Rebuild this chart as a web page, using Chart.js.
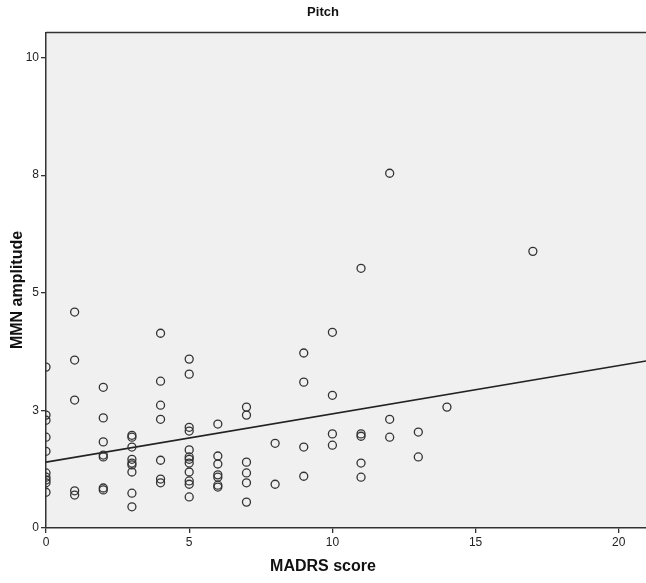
<!DOCTYPE html>
<html>
<head>
<meta charset="utf-8">
<script src="https://cdn.jsdelivr.net/npm/chart.js@4"></script>
<style>
  body { margin: 0; background: #fff; }
  #wrap { width: 646px; height: 583px; }
</style>
</head>
<body>
<div id="wrap"><canvas id="pitch" width="646" height="583"></canvas></div>
<script>
// MADRS score (x) and MMN amplitude (y), read column by column
var madrs = [
  0, 0, 0, 0, 0, 0, 0, 0, 0, 0,
  1, 1, 1, 1, 1,
  2, 2, 2, 2, 2, 2, 2,
  3, 3, 3, 3, 3, 3, 3, 3, 3,
  4, 4, 4, 4, 4, 4, 4,
  5, 5, 5, 5, 5, 5, 5, 5, 5, 5, 5, 5,
  6, 6, 6, 6, 6, 6, 6,
  7, 7, 7, 7, 7, 7,
  8, 8,
  9, 9, 9, 9,
  10, 10, 10, 10,
  11, 11, 11, 11, 11,
  12, 12, 12,
  13, 13,
  14,
  17
]
var mmn = [
  3.42, 2.40, 2.29, 1.93, 1.63, 1.17, 1.08, 1.02, 0.96, 0.76,
  4.59, 3.57, 2.72, 0.79, 0.70,
  2.99, 2.34, 1.83, 1.55, 1.51, 0.85, 0.81,
  1.97, 1.93, 1.72, 1.46, 1.38, 1.34, 1.19, 0.74, 0.45,
  4.14, 3.12, 2.61, 2.31, 1.44, 1.04, 0.96,
  3.59, 3.27, 2.14, 2.06, 1.66, 1.51, 1.46, 1.38, 1.19, 1.00, 0.93, 0.66,
  2.21, 1.53, 1.36, 1.13, 1.08, 0.91, 0.87,
  2.57, 2.40, 1.40, 1.17, 0.96, 0.55,
  1.80, 0.93,
  3.72, 3.10, 1.72, 1.10,
  4.16, 2.82, 2.00, 1.76,
  5.52, 2.00, 1.95, 1.38, 1.08,
  7.54, 2.31, 1.93,
  2.04, 1.51,
  2.57,
  5.88
]

// fit line end points
var fitX = [0, 20.95]
var fitY = [1.40, 3.55]

var xTicks = [0, 5, 10, 15, 20]
var yTicks = [0, 2.5, 5, 7.5, 10]
var yTickLabels = ['0', '3', '5', '8', '10']

var puntos = madrs.map(function (x, i) { return { x: x, y: mmn[i] } })
var linea = fitX.map(function (x, i) { return { x: x, y: fitY[i] } })

var familia = '"Liberation Sans", Arial, sans-serif'

// fondo gris, borde superior y titulos de los ejes (centrados en la imagen)
var fondo = {
  id: 'fondo',
  beforeDraw: function (chart) {
    var a = chart.chartArea, ctx = chart.ctx
    ctx.save()
    ctx.fillStyle = '#f0f0f0'
    ctx.fillRect(a.left, a.top, a.right - a.left, a.bottom - a.top)
    ctx.restore()
  },
  afterDraw: function (chart) {
    var a = chart.chartArea, ctx = chart.ctx
    ctx.save()
    ctx.strokeStyle = '#333'
    ctx.lineWidth = 1.5
    ctx.beginPath()
    ctx.moveTo(a.left, a.top)
    ctx.lineTo(a.right, a.top)
    ctx.stroke()

    ctx.fillStyle = '#111'
    ctx.font = 'bold 16px ' + familia
    ctx.textAlign = 'center'
    ctx.textBaseline = 'middle'
    ctx.fillText('MADRS score', chart.width / 2, 567)
    ctx.translate(18, 290)
    ctx.rotate(-Math.PI / 2)
    ctx.fillText('MMN amplitude', 0, 0)
    ctx.restore()
  }
}

var tickFont = { family: familia, size: 12 }

var grafico = new Chart(document.getElementById('pitch').getContext('2d'), {
  type: 'scatter',
  data: {
    datasets: [{
      label: 'MMN amplitude',
      data: puntos,
      pointRadius: 4,
      pointHoverRadius: 4,
      pointBorderWidth: 1.3,
      pointBorderColor: '#333',
      pointBackgroundColor: 'rgba(0,0,0,0)'
    }, {
      type: 'line',
      label: 'Fit',
      data: linea,
      borderColor: '#222',
      borderWidth: 1.6,
      pointRadius: 0,
      fill: false
    }]
  },
  options: {
    responsive: false,
    animation: false,
    devicePixelRatio: 1,
    layout: { padding: 0, autoPadding: false },
    plugins: {
      legend: { display: false },
      tooltip: { enabled: false },
      title: {
        display: true,
        text: 'Pitch',
        color: '#111',
        font: { family: familia, size: 13, weight: 'bold' },
        padding: { top: 5, bottom: 12 }
      }
    },
    scales: {
      x: {
        type: 'linear',
        min: 0,
        max: 20.95,
        afterFit: function (s) { s.height = 55; s.paddingLeft = 0; s.paddingRight = 0 },
        afterBuildTicks: function (s) { s.ticks = xTicks.map(function (v) { return { value: v } }) },
        grid: { display: true, drawOnChartArea: false, drawTicks: true, tickLength: 5, color: '#333', lineWidth: 1.3 },
        border: { display: true, color: '#333', width: 1.5 },
        ticks: { color: '#222', font: tickFont, padding: 2, maxRotation: 0 }
      },
      y: {
        type: 'linear',
        min: 0,
        max: 10.53,
        afterFit: function (s) { s.width = 46; s.paddingTop = 0; s.paddingBottom = 0 },
        afterBuildTicks: function (s) { s.ticks = yTicks.map(function (v) { return { value: v } }) },
        grid: { display: true, drawOnChartArea: false, drawTicks: true, tickLength: 5, color: '#333', lineWidth: 1.3 },
        border: { display: true, color: '#333', width: 1.5 },
        ticks: {
          color: '#222',
          font: tickFont,
          padding: 2,
          callback: function (v, i) { return yTickLabels[i] }
        }
      }
    }
  },
  plugins: [fondo]
})
</script>
</body>
</html>
